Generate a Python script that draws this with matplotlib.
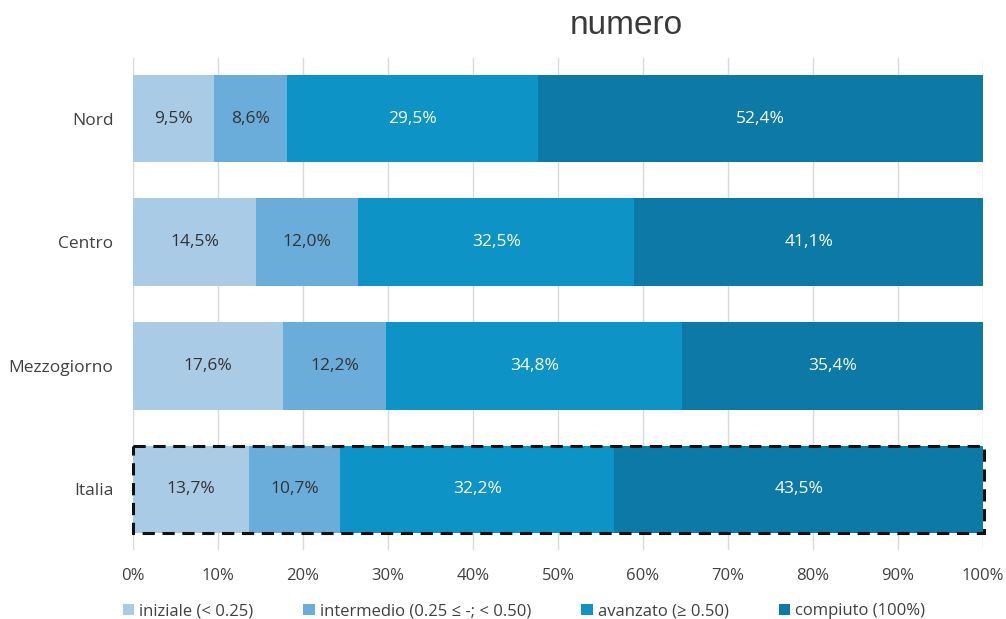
import matplotlib
matplotlib.use("Agg")
import matplotlib.pyplot as plt
import numpy as np
from matplotlib.patches import Rectangle

plt.rcParams['font.family'] = ['Open Sans', 'DejaVu Sans']

categories = ["Nord", "Centro", "Mezzogiorno", "Italia"]
series_names = ["iniziale (< 0.25)", "intermedio (0.25 ≤ -; < 0.50)", "avanzato (≥ 0.50)", "compiuto (100%)"]
iniziale = [9.5, 14.5, 17.6, 13.7]
intermedio = [8.6, 12.0, 12.2, 10.7]
avanzato = [29.5, 32.5, 34.8, 32.2]
compiuto = [52.4, 41.1, 35.4, 43.5]
colors = ["#aacbe6", "#6badda", "#0d93c6", "#0c79a6"]
text_colors = ["#333333", "#333333", "white", "white"]
xticks = [0, 10, 20, 30, 40, 50, 60, 70, 80, 90, 100]

fig = plt.figure(figsize=(10.06, 6.19), dpi=100)
ax = fig.add_axes([0.1322, 0.1115, 0.8449, 0.7948])

y = np.arange(len(categories))
h = 0.71
left = np.zeros(len(categories))
for vals, col, tc, name in zip([iniziale, intermedio, avanzato, compiuto], colors, text_colors, series_names):
    ax.barh(y, vals, left=left, height=h, color=col, label=name, zorder=2)
    for yi, v, l in zip(y, vals, left):
        ax.text(l + v / 2, yi, f"{v:.1f}%".replace(".", ","), ha="center", va="center",
                color=tc, fontsize=12.5, zorder=4)
    left = left + np.array(vals)

# dashed box around Italia
idx = categories.index("Italia")
ax.add_patch(Rectangle((0, idx - h / 2), left[idx], h, fill=False, edgecolor="#111111",
                       linestyle=(0, (4, 2.5)), linewidth=2.2, zorder=5, clip_on=False))

ax.set_xlim(0, 100)
ax.set_ylim(3.49, -0.49)
ax.set_yticks(y)
ax.set_yticklabels(categories, fontsize=12.5, color="#404040")
ax.set_xticks(xticks)
ax.set_xticklabels([f"{t}%" for t in xticks], fontsize=12, color="#404040")
ax.tick_params(length=0)
ax.tick_params(axis='y', pad=14)
ax.tick_params(axis='x', pad=13)
ax.grid(axis="x", color="#d9d9d9", linewidth=1, zorder=0)
for s in ax.spines.values():
    s.set_visible(False)

fig.text(0.623, 0.958, "numero", ha="center", va="center", fontsize=24, color="#3a3a3a",
         family=["Liberation Sans", "DejaVu Sans"])

ax.legend(loc="center", bbox_to_anchor=(0.46, -0.125), ncol=4, frameon=False, fontsize=12,
          handlelength=0.7, handleheight=0.7, handletextpad=0.3, columnspacing=3.0,
          labelcolor="#404040")

fig.savefig("out.png", dpi=100)
